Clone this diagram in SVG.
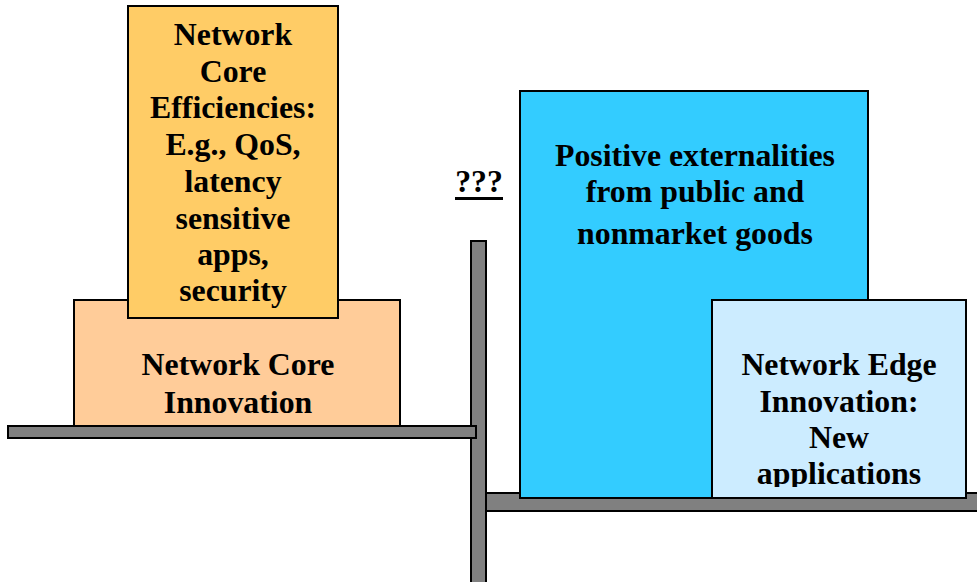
<svg xmlns="http://www.w3.org/2000/svg" width="977" height="582" viewBox="0 0 977 582">
<style>
.t{font-family:"Liberation Serif","Times New Roman",serif;font-weight:bold;font-size:31.8px;fill:#000;text-anchor:middle}
.box{stroke:#000;stroke-width:2}
.shelf{fill:#808080;stroke:#000;stroke-width:2}
</style>
<defs>
<clipPath id="edgeClip"><rect x="712" y="300" width="254" height="187"/></clipPath>
</defs>
<g id="shelves">
<rect class="shelf" x="471" y="241" width="15" height="345"/>
<rect class="shelf" x="8" y="426" width="468" height="12"/>
<rect class="shelf" x="486" y="493" width="495" height="18"/>
</g>
<g id="core-innovation">
<rect class="box" x="74" y="300" width="326" height="126" fill="#FFCC99"/>
<text class="t" x="238" y="375">Network Core</text>
<text class="t" x="238" y="413">Innovation</text>
</g>
<g id="core-efficiencies">
<rect class="box" x="128" y="6" width="210" height="312" fill="#FFCC66"/>
<text class="t" x="233" y="45">Network</text>
<text class="t" x="233" y="82">Core</text>
<text class="t" x="233" y="118">Efficiencies:</text>
<text class="t" x="233" y="155">E.g., QoS,</text>
<text class="t" x="233" y="192">latency</text>
<text class="t" x="233" y="229">sensitive</text>
<text class="t" x="233" y="265">apps,</text>
<text class="t" x="233" y="301">security</text>
</g>
<g id="question">
<text class="t" x="479" y="192">???</text>
<rect x="455" y="197" width="48" height="3" fill="#000"/>
</g>
<g id="externalities">
<rect class="box" x="520" y="91" width="348" height="407" fill="#33CCFF"/>
<text class="t" x="695" y="166">Positive externalities</text>
<text class="t" x="695" y="202">from public and</text>
<text class="t" x="695" y="244">nonmarket goods</text>
</g>
<g id="edge-innovation">
<rect class="box" x="712" y="300" width="254" height="198" fill="#CCECFF"/>
<g clip-path="url(#edgeClip)">
<text class="t" x="839" y="375">Network Edge</text>
<text class="t" x="839" y="412">Innovation:</text>
<text class="t" x="839" y="448">New</text>
<text class="t" x="839" y="484">applications</text>
</g>
</g>
</svg>
